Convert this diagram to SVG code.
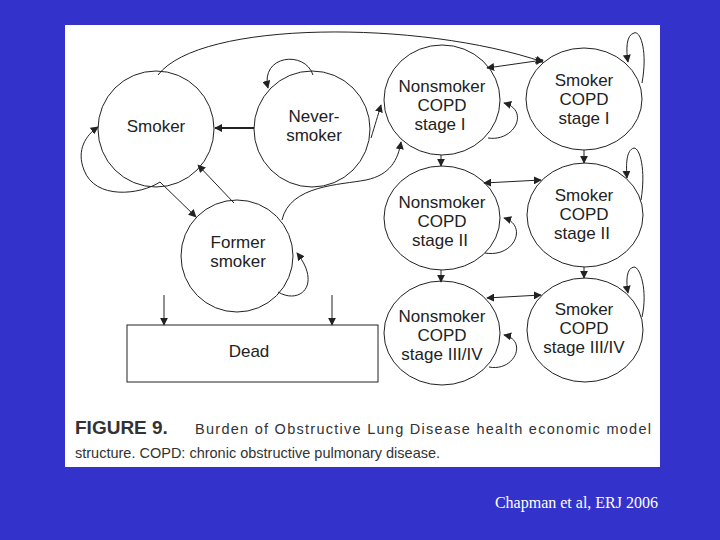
<svg xmlns="http://www.w3.org/2000/svg" width="720" height="540" viewBox="0 0 720 540">
<style>
.n{fill:#fff;stroke:#222;stroke-width:1}
.t{font-family:"Liberation Sans",Arial,sans-serif;font-size:17px;fill:#222;text-anchor:middle}
.c{fill:none;stroke:#222;stroke-width:1;marker-end:url(#a)}
.cap{font-family:"Liberation Sans",Arial,sans-serif;font-size:14.5px;fill:#333}
</style>
<defs>
<marker id="a" viewBox="0 0 10 10" refX="9" refY="5" markerWidth="8" markerHeight="8" orient="auto-start-reverse" markerUnits="userSpaceOnUse"><path d="M0,0L10,5L0,10z" fill="#222"/></marker>
</defs>
<rect width="720" height="540" fill="#3333cc"/>
<rect x="65" y="25" width="595" height="442" fill="#fff"/>
<g id="smoker"><circle class="n" cx="156" cy="129" r="58"/><text class="t" x="156" y="132">Smoker</text></g>
<g id="never"><circle class="n" cx="312" cy="129" r="58"/><text class="t" x="314" y="122">Never-</text><text class="t" x="314" y="141">smoker</text></g>
<g id="ns1"><ellipse class="n" cx="442" cy="100" rx="58" ry="55"/><text class="t" x="442" y="92">Nonsmoker</text><text class="t" x="442" y="111">COPD</text><text class="t" x="440" y="130">stage I</text></g>
<g id="s1"><ellipse class="n" cx="584" cy="99" rx="58" ry="51"/><text class="t" x="584" y="86">Smoker</text><text class="t" x="584" y="105">COPD</text><text class="t" x="584" y="124">stage I</text></g>
<g id="ns2"><ellipse class="n" cx="442" cy="218" rx="58" ry="52"/><text class="t" x="442" y="208">Nonsmoker</text><text class="t" x="442" y="227">COPD</text><text class="t" x="440" y="246">stage II</text></g>
<g id="s2"><ellipse class="n" cx="585" cy="215" rx="58" ry="52"/><text class="t" x="584" y="201">Smoker</text><text class="t" x="584" y="220">COPD</text><text class="t" x="582" y="239">stage II</text></g>
<g id="ns3"><ellipse class="n" cx="442" cy="333" rx="58" ry="52"/><text class="t" x="442" y="322">Nonsmoker</text><text class="t" x="442" y="341">COPD</text><text class="t" x="442" y="360">stage III/IV</text></g>
<g id="s3"><ellipse class="n" cx="585" cy="330" rx="58" ry="52"/><text class="t" x="584" y="315">Smoker</text><text class="t" x="584" y="334">COPD</text><text class="t" x="584" y="353">stage III/IV</text></g>
<g id="former"><circle class="n" cx="237" cy="256" r="56"/><text class="t" x="238" y="248">Former</text><text class="t" x="238" y="267">smoker</text></g>
<g id="dead"><rect class="n" x="127" y="325" width="251" height="57"/><text class="t" x="249" y="357">Dead</text></g>
<g id="connectors">
<path class="c" d="M158,75 C200,20 420,20 543,62"/>
<path class="c" d="M313,75 C305,50 260,55 268,88"/>
<path class="c" style="stroke-width:2" d="M254,128 L215,128"/>
<path class="c" d="M371,138 C375,125 378,115 381,105"/>
<path class="c" style="marker-start:url(#a)" d="M487,68 L543,60"/>
<path class="c" d="M488,138 C515,142 530,110 504,103"/>
<path class="c" d="M642,83 C648,50 640,30 634,33 C626,35 626,50 628,62"/>
<path class="c" d="M441,155 L441,166"/>
<path class="c" d="M584,150 L584,163"/>
<path class="c" style="marker-start:url(#a)" d="M484,183 L541,180"/>
<path class="c" d="M641,200 C646,170 640,148 634,148 C626,150 626,165 627,178"/>
<path class="c" d="M485,253 C515,258 528,225 504,218"/>
<path class="c" d="M441,270 L441,282"/>
<path class="c" d="M584,267 L584,278"/>
<path class="c" style="marker-start:url(#a)" d="M487,298 L541,295"/>
<path class="c" d="M642,317 C648,290 640,267 634,267 C626,268 626,282 628,293"/>
<path class="c" d="M489,367 C515,372 528,340 504,335"/>
<path class="c" d="M160,182 C140,195 95,200 84,170 C76,150 86,135 98,127"/>
<path class="c" d="M160,182 L196,217"/>
<path class="c" d="M234,203 L198,165"/>
<path class="c" d="M282,220 C290,185 340,185 366,180 C390,175 398,160 401,142"/>
<path class="c" d="M278,292 C300,305 322,285 297,253"/>
<path class="c" d="M164,295 L164,325"/>
<path class="c" d="M332,295 L332,325"/>
</g>
<text x="75" y="434" style="font-family:'Liberation Sans',Arial,sans-serif;font-size:19px;font-weight:bold;fill:#333">FIGURE 9.</text>
<text class="cap" x="195" y="434" textLength="456" lengthAdjust="spacing">Burden of Obstructive Lung Disease health economic model</text>
<text class="cap" x="75" y="458">structure. COPD: chronic obstructive pulmonary disease.</text>
<text x="658" y="508" style="font-family:'Liberation Serif','Times New Roman',serif;font-size:16px;fill:#fff;text-anchor:end">Chapman et al, ERJ 2006</text>
</svg>
